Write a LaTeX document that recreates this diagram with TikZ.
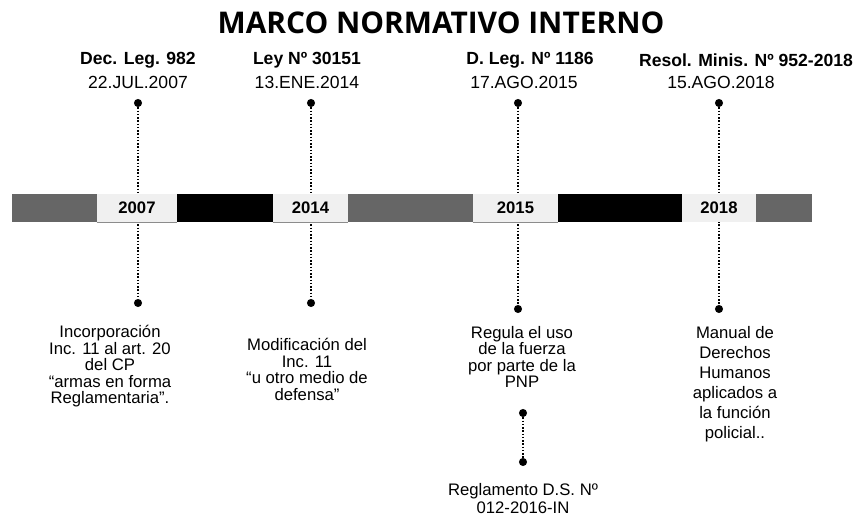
\documentclass[tikz,border=0pt]{standalone}
\usepackage{fontspec}
\setmainfont{Liberation Sans}
\newfontfamily\titlefont{Open Sans}
\usetikzlibrary{positioning}
\tikzset{
  pin/.style={circle,fill=black,inner sep=0pt,minimum size=4.6pt},
  conn/.style={densely dotted,line width=0.85pt},
  yearbox/.style={fill=black!6,minimum height=0.56cm,inner sep=0pt,font=\bfseries\fontsize{9.5}{9.5}\selectfont},
  head/.style={font=\bfseries\fontsize{10}{10}\selectfont},
  sub/.style={font=\fontsize{10}{10}\selectfont},
  desc/.style={align=center,anchor=north,inner sep=0pt,font=\fontsize{9.5}{9.4}\selectfont},
}
\begin{document}
        \begin{tikzpicture}[x=0.02cm,y=-0.02cm]
            \useasboundingbox (0,0) rectangle (860,519);
            \node[font=\titlefont\bfseries\fontsize{17}{17}\selectfont] (title) at (441,23) {MARCO NORMATIVO INTERNO};
            \node[head] (h1) at (138,60) {Dec. Leg. 982};
            \node[sub] (s1) at (138,82) {22.JUL.2007};
            \node[head] (h2) at (307,60) {Ley Nº 30151};
            \node[sub] (s2) at (307,82) {13.ENE.2014};
            \node[head] (h3) at (530,60) {D. Leg. Nº 1186};
            \node[sub] (s3) at (524,82) {17.AGO.2015};
            \node[head] (h4) at (746,60) {Resol. Minis. Nº 952-2018};
            \node[sub] (s4) at (721,82) {15.AGO.2018};
            \node[pin] (t1) at (138,103) {};
            \node[pin] (t2) at (311,103) {};
            \node[pin] (t3) at (518,103) {};
            \node[pin] (t4) at (719,103) {};
            \node[pin] (b1) at (138,303) {};
            \node[pin] (b2) at (311,303) {};
            \node[pin] (b3) at (518,309) {};
            \node[pin] (b4) at (719,309) {};
            \node[pin] (r1) at (523,413) {};
            \node[pin] (r2) at (523,462) {};
            \draw[conn] (t1) -- (b1);
            \draw[conn] (t2) -- (b2);
            \draw[conn] (t3) -- (b3);
            \draw[conn] (t4) -- (b4);
            \draw[conn] (r1) -- (r2);
            \fill[black!60] (12,194) rectangle (97,222);
            \fill (177,194) rectangle (273,222);
            \fill[black!60] (348,194) rectangle (473,222);
            \fill (558,194) rectangle (682,222);
            \fill[black!60] (756,194) rectangle (812,222);
            \node[yearbox,minimum width=1.6cm] (y1) at (137,208) {2007};
            \node[yearbox,minimum width=1.5cm] (y2) at (310.5,208) {2014};
            \node[yearbox,minimum width=1.7cm] (y3) at (515.5,208) {2015};
            \node[yearbox,minimum width=1.48cm] (y4) at (719,208) {2018};
            \draw[black!45] (y1.south west) -- (y1.south east);
            \draw[black!45] (y2.south west) -- (y2.south east);
            \draw[black!45] (y3.south west) -- (y3.south east);
            \node[desc] (d1) at (110,325) {Incorporación\\Inc. 11 al art. 20\\del CP\\“armas en forma\\Reglamentaria”.};
            \node[desc] (d2) at (307,338) {Modificación del\\Inc. 11\\“u otro medio de\\defensa”};
            \node[desc] (d3) at (522,326) {Regula el uso\\de la fuerza\\por parte de la\\PNP};
            \node[desc,font=\fontsize{9.5}{11.4}\selectfont] (d4) at (735,326) {Manual de\\Derechos\\Humanos\\aplicados a\\la función\\policial..};
            \node[desc,font=\fontsize{9.5}{10.3}\selectfont,below=0.34cm of r2] (d5) {Reglamento D.S. Nº\\012-2016-IN};
        \end{tikzpicture}
\end{document}
